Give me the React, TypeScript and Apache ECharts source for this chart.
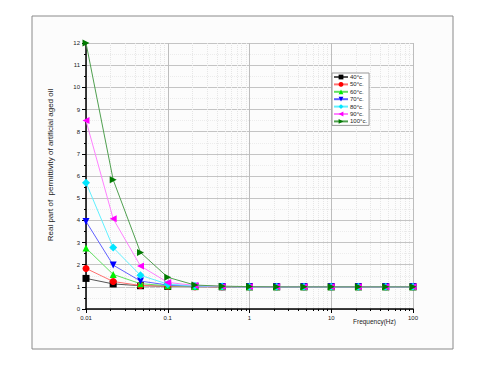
import React, { useEffect, useRef } from "react";
import * as echarts from "echarts";

const freqs = [0.01, 0.0215, 0.0464, 0.1, 0.215, 0.464, 1, 2.15, 4.64, 10, 21.5, 46.4, 100];
const seriesNames = ["40°c.", "50°c.", "60°c.", "70°c.", "80°c.", "90°c.", "100°c."];
const v40 = [1.38, 1.13, 1.05, 1.02, 1.01, 1.0, 1.0, 1.0, 1.0, 1.0, 1.0, 1.0, 1.0];
const v50 = [1.83, 1.24, 1.06, 1.03, 1.01, 1.0, 1.0, 1.0, 1.0, 1.0, 1.0, 1.0, 1.0];
const v60 = [2.75, 1.56, 1.14, 1.05, 1.02, 1.01, 1.0, 1.0, 1.0, 1.0, 1.0, 1.0, 1.0];
const v70 = [3.95, 1.98, 1.26, 1.08, 1.03, 1.01, 1.0, 1.0, 1.0, 1.0, 1.0, 1.0, 1.0];
const v80 = [5.7, 2.77, 1.52, 1.12, 1.04, 1.01, 1.0, 1.0, 1.0, 1.0, 1.0, 1.0, 1.0];
const v90 = [8.5, 4.07, 1.94, 1.2, 1.06, 1.02, 1.0, 1.0, 1.0, 1.0, 1.0, 1.0, 1.0];
const v100 = [12.0, 5.83, 2.55, 1.43, 1.08, 1.03, 1.01, 1.0, 1.0, 1.0, 1.0, 1.0, 1.0];
const allValues = [v40, v50, v60, v70, v80, v90, v100];
const markerColors = ["#000000", "#ff0000", "#00ee00", "#0000ff", "#00e5ff", "#ff00ff", "#007a00"];
const lineColors = ["#555555", "#ff7070", "#60e060", "#6060ff", "#60f0ff", "#ff80ff", "#50a050"];
const symbols = ["rect", "circle", "triangle", "triangle", "diamond", "triangle", "triangle"];
const rotations = [0, 0, 0, 180, 0, 90, -90];
const yTicks = [0, 12];
const xRange = [0.01, 100];

export default function App() {
  const ref = useRef<HTMLDivElement>(null);
  useEffect(() => {
    document.body.style.margin = "0";
    const chart = echarts.init(ref.current!, null, { renderer: "svg" });
    const font = "Liberation Sans, Arial, sans-serif";
    chart.setOption({
      animation: false,
      backgroundColor: "#ffffff",
      textStyle: { fontFamily: font },
      grid: { left: 86, right: 67, top: 43, bottom: 62, containLabel: false },
      graphic: [
        {
          type: "rect",
          shape: { x: 32, y: 16, width: 421, height: 333 },
          style: { fill: "#fcfcfc", stroke: "#8a8a8a", lineWidth: 1 },
          z: -10,
          silent: true,
        },
        {
          type: "text",
          x: 50,
          y: 165,
          rotation: Math.PI / 2,
          style: {
            text: "Real part of  permittivity of artificial aged oil",
            fontSize: 8,
            fontFamily: font,
            fill: "#222",
            align: "center",
            verticalAlign: "middle",
          },
        },
        {
          type: "text",
          x: 353,
          y: 318,
          style: { text: "Frequency(Hz)", fontSize: 6.5, fontFamily: font, fill: "#222" },
        },
      ],
      legend: {
        left: 332,
        top: 73,
        orient: "vertical",
        itemWidth: 14,
        itemHeight: 6,
        itemGap: 1.4,
        padding: [1, 2, 1, 1],
        borderColor: "#999",
        borderWidth: 1,
        backgroundColor: "#ffffff",
        textStyle: { fontSize: 6, fontFamily: font, color: "#222", padding: [0, 0, 0, -3] },
        data: seriesNames,
      },
      xAxis: {
        type: "log",
        logBase: 10,
        min: xRange[0],
        max: xRange[1],
        axisLine: { show: true, onZero: false, lineStyle: { color: "#000", width: 1.5 } },
        axisTick: { show: true, length: 4, lineStyle: { color: "#000" } },
        minorTick: { show: true, splitNumber: 9, length: 2, lineStyle: { color: "#000" } },
        axisLabel: {
          fontSize: 6,
          color: "#222",
          margin: 6,
          formatter: (v: number) => String(v),
        },
        splitLine: { show: true, lineStyle: { color: "#bdbdbd", width: 1 } },
        minorSplitLine: { show: true, lineStyle: { color: "#e6e6e6", type: "dotted", width: 1 } },
      },
      yAxis: {
        type: "value",
        min: yTicks[0],
        max: yTicks[1],
        interval: 1,
        axisLine: { show: true, onZero: false, lineStyle: { color: "#000", width: 1.5 } },
        axisTick: { show: true, length: 4, lineStyle: { color: "#000" } },
        minorTick: { show: true, splitNumber: 2, length: 2, lineStyle: { color: "#000" } },
        axisLabel: { fontSize: 6, color: "#222", margin: 6 },
        splitLine: { show: true, lineStyle: { color: "#c4c4c4", width: 1 } },
        minorSplitLine: { show: true, lineStyle: { color: "#ececec", type: "dotted", width: 1 } },
      },
      series: allValues.map((vals, i) => ({
        name: seriesNames[i],
        type: "line",
        data: vals.map((v, j) => [freqs[j], v]),
        symbol: symbols[i],
        symbolRotate: rotations[i],
        symbolSize: i === 4 ? 8 : 7,
        showSymbol: true,
        clip: false,
        lineStyle: { color: lineColors[i], width: 1 },
        itemStyle: { color: markerColors[i] },
        z: 2 + i,
      })),
    });
    return () => chart.dispose();
  }, []);
  return <div ref={ref} style={{ width: 480, height: 371 }} />;
}
